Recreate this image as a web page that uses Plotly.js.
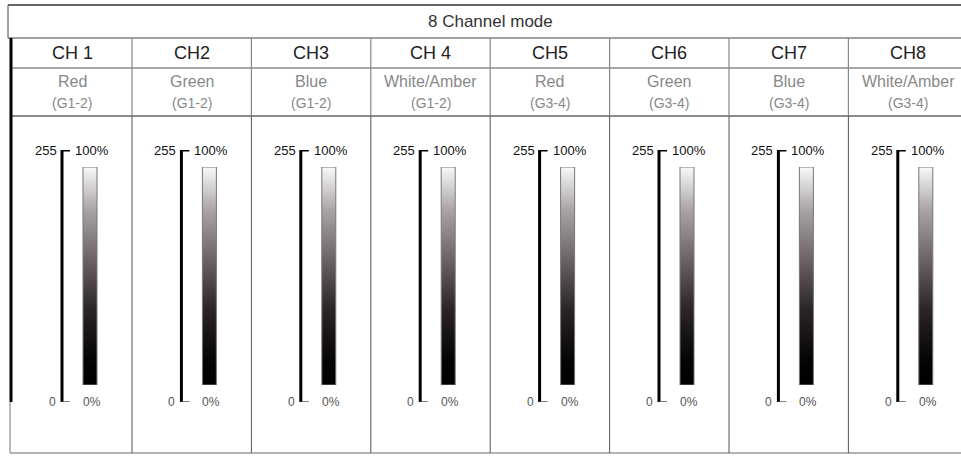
<!DOCTYPE html>
<html>
<head>
<meta charset="utf-8">
<script src="https://cdn.plot.ly/plotly-3.0.1.min.js"></script>
<style>
html,body{margin:0;padding:0;background:#fff;}
#chart{width:961px;height:456px;}
</style>
</head>
<body>
<div id="chart"></div>
<script>
// ---- data ----
const modeTitle = '8 Channel mode';
const channels = ['CH 1', 'CH2', 'CH3', 'CH 4', 'CH5', 'CH6', 'CH7', 'CH8'];
const colorNames = ['Red', 'Green', 'Blue', 'White/Amber', 'Red', 'Green', 'Blue', 'White/Amber'];
const groups = ['(G1-2)', '(G1-2)', '(G1-2)', '(G1-2)', '(G3-4)', '(G3-4)', '(G3-4)', '(G3-4)'];
const dmxValues = [0, 255];
const dmxLabels = ['0', '255'];
const pctLabels = ['0%', '100%'];

// ---- layout constants (pixel space on x / y axes) ----
const W = 961, H = 456;
const colW = 119.4;
const firstDiv = 132;
const rowTop = 5, rowTitle = 38, rowCH = 68, rowLabel = 116, rowBottom = 453;
const leftEdge = 10;
function divX(k) { return firstDiv + colW * k; }
function colCenter(i) { return i === 0 ? 72 : firstDiv + colW * (i - 1) + colW / 2; }
function lineX(i) { return 62 + colW * i; }
function gradX(i) { return 90 + colW * i; }

const FONT = 'Liberation Sans, Arial, sans-serif';
const traces = [];
const shapes = [];
const annotations = [];

channels.forEach((ch, i) => {
  const gx = gradX(i);
  traces.push({
    type: 'heatmap',
    x: [gx - 7, gx + 7],
    y: dmxValues,
    z: dmxValues.map(v => [v]),
    zmin: dmxValues[0], zmax: dmxValues[1],
    zsmooth: 'best',
    xaxis: 'x', yaxis: 'y2',
    showscale: false, hoverinfo: 'skip',
    colorscale: [[0, '#000000'], [0.12, '#060404'], [0.35, '#2c2525'],
                 [0.55, '#645c5c'], [0.8, '#a9a2a2'], [1, '#f8f8f8']]
  });
  shapes.push({
    type: 'rect', xref: 'x', yref: 'y2',
    x0: gx - 7, x1: gx + 7, y0: dmxValues[0], y1: dmxValues[1],
    line: {color: '#777', width: 1}, fillcolor: 'rgba(0,0,0,0)', layer: 'above'
  });
  const lx = lineX(i);
  traces.push({
    type: 'scatter', mode: 'lines', xaxis: 'x', yaxis: 'y3',
    x: [lx + 8, lx, lx], y: [dmxValues[1], dmxValues[1], dmxValues[0]],
    line: {color: '#000', width: 3}, hoverinfo: 'skip', showlegend: false
  });
  traces.push({
    type: 'scatter', mode: 'lines', xaxis: 'x', yaxis: 'y3',
    x: [lx, lx + 8], y: [dmxValues[0], dmxValues[0]],
    line: {color: '#555', width: 1.5}, hoverinfo: 'skip', showlegend: false
  });
  annotations.push({xref: 'x', yref: 'y3', x: lx - 3, y: dmxValues[1], text: dmxLabels[1],
    xanchor: 'right', yanchor: 'middle', showarrow: false, font: {family: FONT, size: 13, color: '#111'}});
  annotations.push({xref: 'x', yref: 'y3', x: lx + 11, y: dmxValues[1], text: pctLabels[1],
    xanchor: 'left', yanchor: 'middle', showarrow: false, font: {family: FONT, size: 13, color: '#111'}});
  annotations.push({xref: 'x', yref: 'y3', x: lx - 4, y: dmxValues[0], text: dmxLabels[0],
    xanchor: 'right', yanchor: 'middle', showarrow: false, font: {family: FONT, size: 12, color: '#555'}});
  annotations.push({xref: 'x', yref: 'y3', x: lx + 19, y: dmxValues[0], text: pctLabels[0],
    xanchor: 'left', yanchor: 'middle', showarrow: false, font: {family: FONT, size: 12, color: '#555'}});

  annotations.push({xref: 'x', yref: 'y', x: colCenter(i), y: 53, text: ch,
    xanchor: 'center', yanchor: 'middle', showarrow: false, font: {family: FONT, size: 18, color: '#222'}});
  annotations.push({xref: 'x', yref: 'y', x: colCenter(i), y: 81, text: colorNames[i],
    xanchor: 'center', yanchor: 'middle', showarrow: false, font: {family: FONT, size: 16, color: '#888'}});
  annotations.push({xref: 'x', yref: 'y', x: colCenter(i), y: 103, text: groups[i],
    xanchor: 'center', yanchor: 'middle', showarrow: false, font: {family: FONT, size: 14, color: '#888'}});
});

annotations.push({xref: 'x', yref: 'y', x: 490, y: 21, text: modeTitle,
  xanchor: 'center', yanchor: 'middle', showarrow: false, font: {family: FONT, size: 17, color: '#333'}});

function line(x0, y0, x1, y1, color, width, dash) {
  shapes.push({type: 'line', xref: 'x', yref: 'y', x0, y0, x1, y1,
    line: {color, width, dash: dash || 'solid'}, layer: 'above'});
}
line(8, rowTop, W, rowTop, '#333', 1.5);
line(8, rowTop, 8, rowTitle, '#444', 1);
line(8, rowTitle, W, rowTitle, '#444', 1.2);
line(leftEdge, rowCH, W, rowCH, '#888', 1.3);
line(leftEdge, rowLabel, W, rowLabel, '#666', 1.5);
line(leftEdge, rowBottom, W, rowBottom, '#999', 1.5);
line(leftEdge + 1, rowTitle, leftEdge + 1, 402, '#000', 3);
line(leftEdge, 402, leftEdge, rowBottom, '#777', 1);
for (let k = 0; k < channels.length - 1; k++) {
  const x = divX(k);
  line(x, rowTitle, x, rowLabel, '#888', 1.2);
  line(x, rowLabel, x, rowBottom, '#555', 1);
}

const layout = {
  width: W, height: H,
  margin: {l: 0, r: 0, t: 0, b: 0, pad: 0},
  paper_bgcolor: '#fff', plot_bgcolor: 'rgba(0,0,0,0)',
  showlegend: false, hovermode: false,
  xaxis: {range: [0, W], visible: false, fixedrange: true, domain: [0, 1], anchor: 'y'},
  yaxis: {range: [H, 0], visible: false, fixedrange: true, domain: [0, 1], anchor: 'x'},
  yaxis2: {range: [0, 255], visible: false, fixedrange: true, anchor: 'x',
           domain: [1 - 385 / H, 1 - 167 / H]},
  yaxis3: {range: [0, 255], visible: false, fixedrange: true, anchor: 'x',
           domain: [1 - 402 / H, 1 - 150 / H]},
  shapes, annotations
};

Plotly.newPlot('chart', traces, layout, {staticPlot: true, displayModeBar: false});
</script>
</body>
</html>
